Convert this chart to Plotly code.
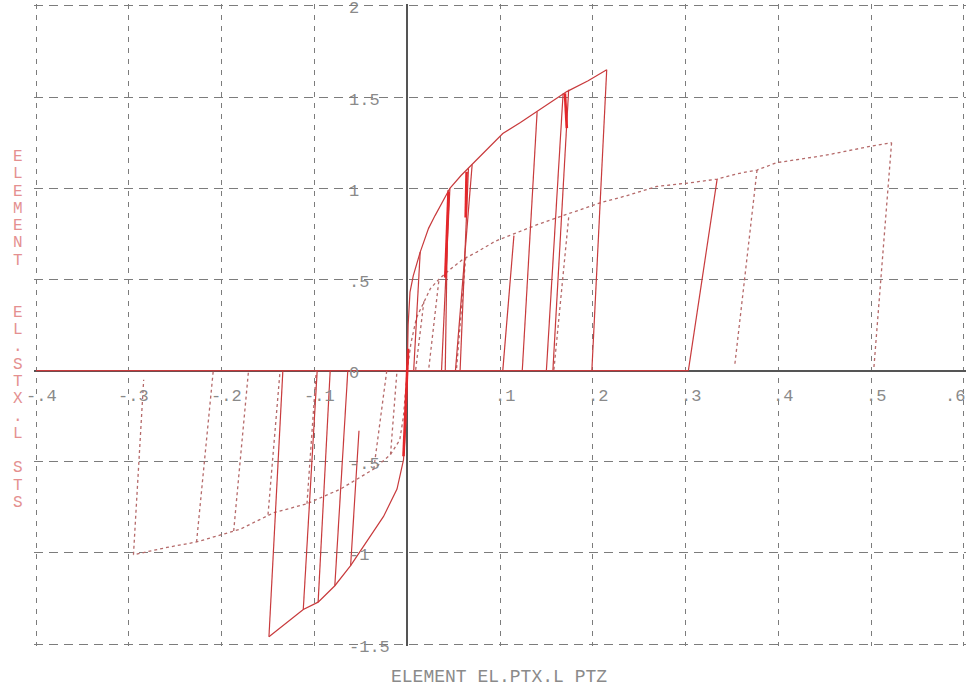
import plotly.graph_objects as go

# ---------------- data ----------------
# solid series: positive envelope
solid_env_pos_x = [0.0, 0.001, 0.003, 0.0065, 0.014, 0.023, 0.030, 0.046, 0.058, 0.070, 0.085,
                   0.103, 0.122, 0.140, 0.157, 0.172, 0.195, 0.215]
solid_env_pos_y = [0.0, 0.25, 0.43, 0.52, 0.65, 0.78, 0.85, 1.00, 1.07, 1.13, 1.21,
                   1.30, 1.36, 1.42, 1.48, 1.53, 1.59, 1.65]
# solid series: negative envelope
solid_env_neg_x = [0.0, -0.001, -0.004, -0.011, -0.0255, -0.047, -0.061, -0.078, -0.096, -0.112, -0.149]
solid_env_neg_y = [0.0, -0.25, -0.49, -0.65, -0.80, -0.96, -1.07, -1.18, -1.27, -1.31, -1.46]
# solid unloading branches: start point (x, y) -> end point (x, y)
solid_unl_x0 = [0.014, 0.046, 0.044, 0.070, 0.066, 0.140, 0.168, 0.174, 0.215, 0.115, 0.334,
                -0.149, -0.112, -0.096, -0.078, -0.061]
solid_unl_y0 = [0.65, 1.00, 0.99, 1.13, 1.11, 1.42, 1.52, 1.54, 1.65, 0.74, 1.05,
                -1.46, -1.31, -1.27, -1.18, -1.07]
solid_unl_x1 = [0.007, 0.037, 0.041, 0.052, 0.057, 0.124, 0.150, 0.157, 0.199, 0.103, 0.303,
                -0.134, -0.097, -0.083, -0.064, -0.052]
solid_unl_y1 = [0.0, 0.0, 0.0, 0.0, 0.0, 0.0, 0.0, 0.0, 0.0, 0.0, 0.0,
                0.0, 0.0, 0.0, 0.0, -0.33]
# zero-stress path of the solid series
solid_zero_x = [-0.4, 0.303]
solid_zero_y = [0.0, 0.0]

# heavily overlapped (repeated) segments, drawn bright red
overlap_x0 = [0.0445, 0.064, 0.170, 0.001]
overlap_y0 = [0.98, 1.09, 1.52, 0.12]
overlap_x1 = [0.041, 0.063, 0.172, -0.004]
overlap_y1 = [0.51, 0.84, 1.33, -0.47]

# dotted series: positive envelope
dot_env_pos_x = [0.0, 0.004, 0.010, 0.018, 0.025, 0.034, 0.045, 0.060, 0.075, 0.095, 0.115,
                 0.140, 0.168, 0.208, 0.237, 0.269, 0.305, 0.334, 0.356, 0.377, 0.398,
                 0.450, 0.499, 0.522]
dot_env_pos_y = [0.0, 0.15, 0.29, 0.38, 0.45, 0.50, 0.55, 0.61, 0.65, 0.71, 0.75,
                 0.80, 0.85, 0.92, 0.96, 1.01, 1.03, 1.05, 1.08, 1.10, 1.14,
                 1.18, 1.23, 1.25]
# dotted series: negative envelope
dot_env_neg_x = [0.0, -0.004, -0.008, -0.018, -0.036, -0.072, -0.108, -0.144, -0.180,
                 -0.227, -0.259, -0.295]
dot_env_neg_y = [0.0, -0.25, -0.38, -0.46, -0.54, -0.65, -0.73, -0.78, -0.87,
                 -0.94, -0.97, -1.01]
# dotted unloading branches
dot_unl_x0 = [0.018, 0.034, 0.063, 0.174, 0.377, 0.522,
              -0.295, -0.227, -0.187, -0.150, -0.108, -0.036, -0.018]
dot_unl_y0 = [0.38, 0.49, 0.62, 0.84, 1.10, 1.25,
              -1.01, -0.94, -0.88, -0.79, -0.73, -0.54, -0.46]
dot_unl_x1 = [0.009, 0.023, 0.053, 0.158, 0.353, 0.503,
              -0.284, -0.209, -0.171, -0.137, -0.098, -0.022, -0.011]
dot_unl_y1 = [0.0, 0.0, 0.0, 0.0, 0.03, 0.02,
              -0.05, 0.0, 0.0, 0.0, 0.0, 0.0, 0.0]

# axes / tick labels
x_tick_vals = [-0.4, -0.3, -0.2, -0.1, 0.1, 0.2, 0.3, 0.4, 0.5, 0.6]
x_tick_text = ["-.4", "-.3", "-.2", "-.1", ".1", ".2", ".3", ".4", ".5", ".6"]
y_tick_vals = [2, 1.5, 1, 0.5, 0, -0.5, -1, -1.5]
y_tick_text = ["2", "1.5", "1", ".5", "0", "-.5", "-1", "-1.5"]
x_title = "ELEMENT EL.PTX.L PTZ"
y_title = "ELEMENT  EL.STX.L STS"


def segs(x0, y0, x1, y1):
    xs, ys = [], []
    for a, b, c, d in zip(x0, y0, x1, y1):
        xs += [a, c, None]
        ys += [b, d, None]
    return xs, ys


SOLID = "#c83a3c"
DOT = "#b56a6a"

fig = go.Figure()

sx, sy = segs(solid_unl_x0, solid_unl_y0, solid_unl_x1, solid_unl_y1)
dx, dy = segs(dot_unl_x0, dot_unl_y0, dot_unl_x1, dot_unl_y1)
ox, oy = segs(overlap_x0, overlap_y0, overlap_x1, overlap_y1)

fig.add_trace(go.Scatter(
    x=dot_env_pos_x + [None] + dot_env_neg_x + [None] + dx,
    y=dot_env_pos_y + [None] + dot_env_neg_y + [None] + dy,
    mode="lines", line=dict(color=DOT, width=1.3, dash="3px,3px"),
    showlegend=False, hoverinfo="skip"))

fig.add_trace(go.Scatter(
    x=solid_zero_x + [None] + solid_env_pos_x + [None] + solid_env_neg_x + [None] + sx,
    y=solid_zero_y + [None] + solid_env_pos_y + [None] + solid_env_neg_y + [None] + sy,
    mode="lines", line=dict(color=SOLID, width=1.2),
    showlegend=False, hoverinfo="skip"))

fig.add_trace(go.Scatter(
    x=ox, y=oy, mode="lines", line=dict(color="#e4262a", width=2.6),
    showlegend=False, hoverinfo="skip"))

GRID = "#7c7c7c"
# ranges padded by ~2px so the gridlines at the frame edges are drawn
fig.update_xaxes(range=[-0.4022, 0.6022], tick0=-0.4, dtick=0.1, showticklabels=False, ticks="",
                 showgrid=True, gridcolor=GRID, gridwidth=1.4, griddash="5px,6px",
                 zeroline=True, zerolinecolor="#555555", zerolinewidth=2,
                 showline=False, fixedrange=True)
fig.update_yaxes(range=[-1.5105, 2.0105], tick0=-1.5, dtick=0.5, showticklabels=False, ticks="",
                 showgrid=True, gridcolor=GRID, gridwidth=1.4, griddash="9px,6px",
                 zeroline=True, zerolinecolor="#555555", zerolinewidth=2,
                 showline=False, fixedrange=True)

TICKFONT = dict(family="Liberation Mono", size=17, color="#8a8a8a")
ann = []
last = len(x_tick_vals) - 1
for i, (v, t) in enumerate(zip(x_tick_vals, x_tick_text)):
    if i == last:
        # the right-most label sits against the page edge
        ann.append(dict(x=v, y=0, xref="x", yref="y", text=t, showarrow=False,
                        xanchor="right", yanchor="middle", xshift=3, yshift=-26, font=TICKFONT))
    else:
        ann.append(dict(x=v, y=0, xref="x", yref="y", text=t, showarrow=False,
                        xanchor="center", yanchor="middle", xshift=5, yshift=-26, font=TICKFONT))
for v, t in zip(y_tick_vals, y_tick_text):
    ann.append(dict(x=0, y=v, xref="x", yref="y", text=t, showarrow=False,
                    xanchor="left", yanchor="middle", xshift=-60, yshift=-3, font=TICKFONT))

# plot area in pixels: left 34, right 966, top 4, bottom 646
PL, PR, PT, PB = 34.0, 966.0, 4.0, 646.0
ann.append(dict(x=(499 - PL) / (PR - PL), y=(PB - 677) / (PB - PT), xref="paper", yref="paper",
                text=x_title, showarrow=False, xanchor="center", yanchor="middle",
                font=dict(family="Liberation Mono", size=18, color="#8a8a8a")))

# vertical, stacked y-axis title
n = len(y_title)
top_px, bot_px = 157.0, 503.0
for i, ch in enumerate(y_title):
    if ch == " ":
        continue
    ypx = top_px + i * (bot_px - top_px) / (n - 1)
    ann.append(dict(x=(18 - PL) / (PR - PL), y=(PB - ypx) / (PB - PT), xref="paper", yref="paper",
                    text=ch, showarrow=False, xanchor="center", yanchor="middle",
                    font=dict(family="Liberation Mono", size=16, color="#e49090")))

fig.update_layout(
    width=969, height=686,
    margin=dict(l=int(PL), r=int(969 - PR), t=int(PT), b=int(686 - PB)),
    paper_bgcolor="white", plot_bgcolor="white",
    annotations=ann, showlegend=False,
)

fig.write_html("out.html", config={"displayModeBar": False},
               post_script="document.body.style.margin='0';document.body.style.overflow='hidden';")
